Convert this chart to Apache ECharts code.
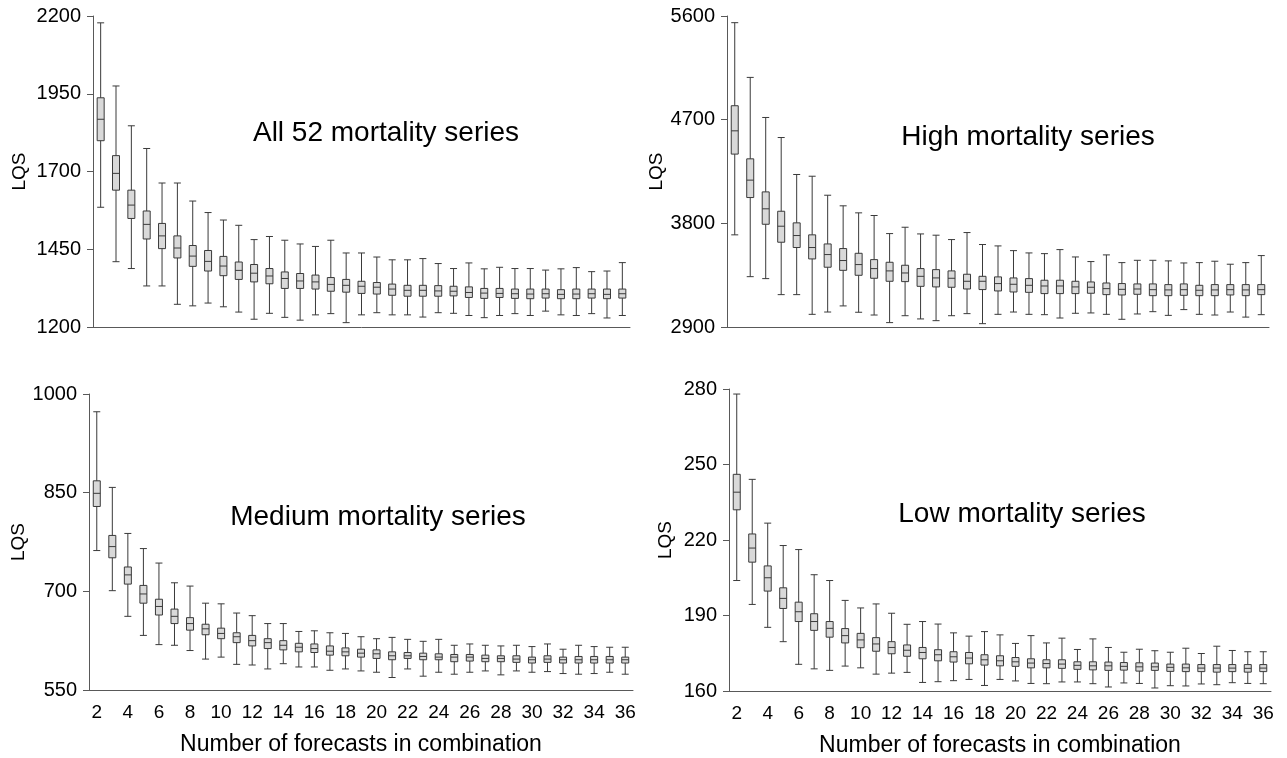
<!DOCTYPE html>
<html><head><meta charset="utf-8">
<script src="https://cdn.jsdelivr.net/npm/echarts@6/dist/echarts.min.js"></script>
<style>html,body{margin:0;padding:0;background:#fff}#c{width:1287px;height:758px}</style>
</head><body><div id="c"></div>
<script>
// categories: number of forecasts in combination
const categories = ['2','3','4','5','6','7','8','9','10','11','12','13','14','15','16','17','18','19','20','21','22','23','24','25','26','27','28','29','30','31','32','33','34','35','36'];
const panelTitles = ['All 52 mortality series','High mortality series','Medium mortality series','Low mortality series'];
const yAxisName = 'LQS';
const xAxisName = 'Number of forecasts in combination';
// [whisker low, Q1, median, Q3, whisker high]
const allSeries = [
 [1585,1799,1868,1937,2178],[1410,1640,1694,1751,1975],[1388,1549,1592,1640,1847],[1332,1483,1530,1573,1774],
 [1332,1452,1493,1533,1663],[1273,1422,1454,1493,1663],[1268,1395,1428,1462,1605],[1277,1380,1411,1446,1568],
 [1265,1365,1396,1427,1544],[1248,1353,1382,1409,1527],[1225,1345,1373,1401,1481],[1244,1339,1364,1388,1491],
 [1231,1324,1356,1377,1479],[1222,1324,1348,1372,1467],[1239,1322,1345,1367,1459],[1243,1315,1337,1359,1479],
 [1214,1312,1334,1353,1438],[1239,1308,1331,1347,1438],[1246,1306,1328,1343,1425],[1239,1302,1322,1338,1416],
 [1239,1299,1318,1334,1416],[1232,1299,1318,1334,1420],[1246,1299,1316,1333,1404],[1244,1300,1315,1331,1388],
 [1237,1295,1311,1329,1406],[1230,1292,1309,1324,1387],[1237,1295,1308,1324,1392],[1243,1292,1307,1322,1388],
 [1237,1291,1306,1322,1388],[1251,1293,1307,1322,1383],[1239,1291,1305,1320,1387],[1237,1291,1306,1322,1391],
 [1243,1293,1307,1322,1378],[1229,1291,1305,1322,1380],[1237,1293,1307,1322,1407]
];
const highSeries = [
 [3700,4401,4603,4821,5542],[3337,4024,4175,4360,5067],[3320,3792,3926,4073,4719],[3181,3636,3775,3905,4545],
 [3181,3590,3694,3804,4224],[3010,3491,3590,3700,4209],[3030,3419,3529,3621,4044],[3083,3392,3477,3581,3952],
 [3028,3349,3442,3540,3891],[3004,3323,3407,3485,3868],[2938,3297,3387,3462,3711],[2998,3294,3369,3436,3766],
 [2970,3253,3340,3407,3708],[2955,3248,3326,3398,3697],[2998,3245,3323,3387,3659],[3016,3230,3297,3358,3720],
 [2929,3225,3297,3340,3616],[3010,3213,3277,3335,3604],[3030,3204,3271,3326,3563],[3010,3201,3262,3320,3543],
 [3007,3190,3256,3306,3537],[2978,3190,3256,3306,3572],[3019,3190,3248,3297,3508],[3022,3193,3245,3291,3468],
 [3010,3181,3233,3282,3526],[2967,3178,3227,3277,3459],[3013,3184,3230,3274,3479],[3033,3172,3224,3274,3479],
 [3001,3172,3222,3268,3474],[3051,3175,3224,3274,3456],[3010,3172,3219,3262,3459],[3004,3172,3222,3268,3471],
 [3030,3178,3224,3268,3445],[2986,3172,3222,3268,3459],[3007,3181,3224,3268,3520]
];
const mediumSeries = [
 [762,829,849,868,973],[701,751,768,785,858],[662,711,725,737,788],[633,682,696,709,765],
 [619,664,677,688,743],[618,651,662,673,713],[610,641,651,660,708],[597,634,643,650,682],
 [600,628,636,644,681],[589,622,631,637,667],[588,617,625,633,663],[582,613,622,628,651],
 [590,611,618,625,651],[585,608,615,621,639],[585,607,613,620,640],[580,603,609,617,637],
 [582,602,608,614,636],[579,600,606,612,631],[577,598,605,611,628],[569,596,602,608,630],
 [582,598,602,607,627],[571,596,601,606,624],[577,596,600,605,627],[574,593,600,604,618],
 [577,594,600,604,620],[579,593,598,603,618],[573,593,598,602,617],[579,592,597,602,618],
 [577,591,596,600,616],[578,592,597,602,620],[575,591,596,600,612],[574,591,596,601,618],
 [575,591,596,601,616],[577,591,596,601,615],[574,591,596,600,615]
];
const lowSeries = [
 [203.9,232.0,239.0,246.1,278.0],[194.4,211.2,216.8,222.4,244.1],[185.3,199.7,205.0,209.7,226.7],[179.6,192.8,196.8,201.0,217.8],
 [170.6,187.6,191.5,195.3,216.2],[168.8,184.1,187.6,190.7,206.2],[168.2,181.4,184.9,187.6,203.9],[169.9,179.1,182.0,184.8,196.0],
 [169.2,177.2,180.3,182.9,193.0],[166.7,175.8,178.7,181.2,194.6],[167.1,174.8,177.3,179.6,190.9],[167.4,173.8,176.2,178.3,186.5],
 [163.4,172.8,175.3,177.3,187.6],[163.7,172.0,174.4,176.4,186.6],[164.1,171.5,173.6,175.6,183.1],[164.6,170.8,173.1,175.3,181.8],
 [162.2,170.3,172.4,174.4,183.6],[164.6,170.0,172.0,174.0,182.3],[164.0,169.8,171.6,173.3,178.9],[163.0,169.2,171.1,172.8,182.0],
 [162.9,169.2,170.9,172.4,179.1],[163.6,169.0,170.7,172.4,181.0],[163.6,168.6,170.2,171.6,176.5],[162.9,168.4,170.0,171.6,180.7],
 [161.6,168.2,170.0,171.5,177.3],[163.2,168.3,169.8,171.3,175.4],[163.0,167.9,169.6,171.2,176.6],[161.2,168.2,169.6,171.1,176.0],
 [162.1,167.8,169.4,170.7,175.4],[162.0,167.7,169.2,170.7,177.0],[162.8,167.7,169.1,170.5,174.9],[162.5,167.5,169.1,170.5,177.8],
 [163.3,167.7,169.1,170.5,176.1],[163.0,167.5,169.0,170.5,175.6],[162.9,167.7,169.1,170.5,175.6]
];
const yTicks = [[1200,2200,250],[2900,5600,900],[550,1000,150],[160,280,30]];

const FONT = '"Liberation Sans", Arial, sans-serif';
const grids = [
 {left:93, top:16, width:537, height:311},
 {left:727, top:16, width:542, height:311},
 {left:89, top:394, width:544, height:296},
 {left:729, top:389, width:542, height:303}
];
const lqsGap = [64, 57, 56, 54];
const datasets = [allSeries, highSeries, mediumSeries, lowSeries];
const xAxes = grids.map((g,i)=>({
  type:'category', gridIndex:i, data:categories, boundaryGap:true,
  axisLine:{show:true, lineStyle:{color:'#595959', width:1}},
  axisTick:{show:false},
  axisLabel:{show:i>=2, interval:1, color:'#000', fontSize:19, fontFamily:FONT, margin:13},
  name: i>=2 ? xAxisName : '', nameLocation:'middle', nameGap:43,
  nameTextStyle:{color:'#000', fontSize:23, fontFamily:FONT}
}));
const yAxes = grids.map((g,i)=>({
  type:'value', gridIndex:i, min:yTicks[i][0], max:yTicks[i][1], interval:yTicks[i][2],
  axisLine:{show:true, lineStyle:{color:'#595959', width:1}},
  axisTick:{show:true, length:6, lineStyle:{color:'#595959'}},
  splitLine:{show:false},
  axisLabel:{color:'#000', fontSize:20, fontFamily:FONT, margin:12, formatter:(v)=>String(v)},
  name:yAxisName, nameLocation:'middle', nameGap:lqsGap[i], nameRotate:90,
  nameTextStyle:{color:'#000', fontSize:19, fontFamily:FONT}
}));
const series = datasets.map((d,i)=>({
  type:'boxplot', xAxisIndex:i, yAxisIndex:i, data:d, boxWidth:[7,7],
  itemStyle:{color:'#d9d9d9', borderColor:'#3a3a3a', borderWidth:1},
  emphasis:{disabled:true}, silent:true
}));
const titlePos = [[386,133],[1028,137],[378,517],[1022,514]];
const graphics = panelTitles.map((t,i)=>({
  type:'text', x:titlePos[i][0], y:titlePos[i][1],
  style:{text:t, fill:'#000', font:'28px '+FONT, textAlign:'center', textVerticalAlign:'middle'}
}));
const chart = echarts.init(document.getElementById('c'), null, {renderer:'canvas'});
chart.setOption({
  animation:false,
  grid:grids, xAxis:xAxes, yAxis:yAxes, series:series, graphic:graphics
});
</script></body></html>
